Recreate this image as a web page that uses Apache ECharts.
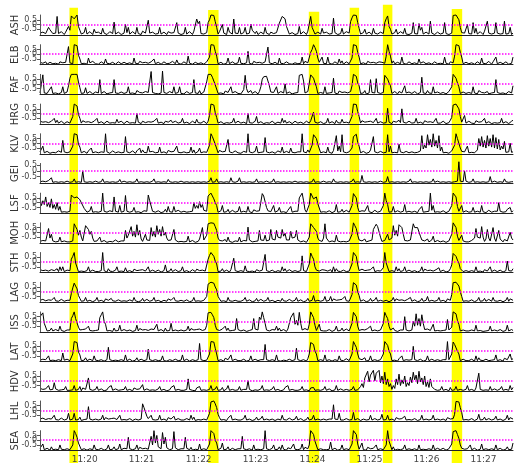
<!DOCTYPE html>
<html>
<head>
<meta charset="utf-8">
<script src="https://cdn.jsdelivr.net/npm/echarts@6/dist/echarts.min.js"></script>
<style>html,body{margin:0;padding:0;background:#fff;}#c{width:516px;height:463px;}</style>
</head>
<body>
<div id="c"></div>
<script>
// Stations (panel order, top to bottom)
const stations = ['ASH','ELB','FAF','HRG','KLV','GEI','LSF','MOH','STH','LAG','ISS','LAT','HDV','LHL','SEA'];
// Sampling: seconds after 11:19:00
const tStart = 13;
const tStep = 1.5;
// X tick positions (seconds after 11:19:00) and labels
const tickSeconds = [60,120,180,240,300,360,420,480];
const tickLabels = ['11:20','11:21','11:22','11:23','11:24','11:25','11:26','11:27'];
// Highlight windows (seconds after 11:19:00)
const bandStart = [44,190,296,339,374,446.5];
const bandEnd   = [53,201,307,349,384,457.5];
const bandTop   = [7.7,10,11.7,7.7,4.7,9];

const ASH = [
-.9,-1,-.8,-.85,-.95,-1,-.3,-.55,-.4,-.95,-.75,-.9,.85,-.95,-.85,-.75,-.95,-1.05,-.8,-.9,
-.2,-.6,.9,.7,.6,.8,1,-.2,-.6,-1,-.9,-.85,-.3,-1,-.8,-.75,-.9,-1.05,-.5,-.85,
-.95,-.8,-.85,-1,-.4,-.9,-.75,-1.05,-.9,-.75,-.85,-.95,.25,-1,-.95,-.8,-.85,-1.05,-.9,-.9,
0,-.85,-.3,-1,-.85,-.75,-.95,-1,-.3,-.95,-.9,-1.05,-.7,-.8,-.9,-1,.45,-.9,-.95,-.8,
-.9,-1,-.8,-.95,-.3,-1,-.85,-.8,-.9,-1.05,-.75,-.95,-.9,-.75,-.85,-1,.2,-.9,-.8,-1.05,
-.85,-.95,-.3,-1,-.8,-.75,-.9,-1.05,-.7,-.9,.58,.1,.35,-.95,-.8,-1,-.9,-.85,.2,.5,
1,.9,.95,.3,-.3,-1,-.75,-.95,0,-.9,-.85,-1.05,-.3,-.8,-.95,-1,.58,-.9,-.9,-.95,
-.3,-1,-.9,-.85,-.3,-1,-.95,-.9,.05,-.6,-.4,-.95,-.7,-1.05,-.9,-.8,-.85,-1,-.3,-.9,
-.9,-1.05,-.8,-.75,-.95,-1,-.85,-.9,.15,.3,.85,.75,.6,-.2,-.4,-1,-.95,-.85,-.8,-1.05,
-.85,-.95,-.2,-1,-.8,-.75,-.9,-1.05,-.7,-.9,.85,-.3,-.5,-1,-.8,-.8,-.9,-1,-.4,-.9,
-.95,-.8,-.85,-1,-.9,-.95,.67,-.85,-.9,-1.05,-.85,-.95,-.4,-1,-.95,-.75,-.85,-.9,.3,.7,
1,.98,.95,.2,-.4,-1,-.95,-.85,-.5,-1,-.9,-.8,-.7,-1.05,-.4,-.9,-.85,-1,-.95,-.8,
-.9,-.95,.2,.6,.9,-.2,-.5,-1,-.9,-.85,-.5,-1,-.9,-.75,-.85,-.95,-.4,-1,-.8,-1.05,
-.85,-.9,.2,-.95,-.8,-1,.1,-.6,-.3,-1,-.9,-.8,-.95,-1,.35,-.9,-.9,-1.05,-.85,-.8,
-.95,-1,-.85,-.9,.2,-.95,-.75,-1.05,-.9,-.9,.95,.98,1,.8,.5,-.3,-.85,-1,-.9,-.85,
0,-.95,-.9,-1,.2,-.9,-.4,-1,-.8,-.75,-.9,-1.05,-.7,-.9,.35,-.9,-.85,-1,-.95,-.9,
.2,-.9,-.8,-1,-.95,-.95,.35,-1,-.9,-.95,-.3,-1.05,-.9];
const ELB = [
-.85,-1,-.95,-.8,-.8,-1.05,-.9,-.85,-.7,-1,-.9,-.95,-.95,-1.05,-.8,-.9,-.9,-1,-.85,-.9,
.8,-.9,-.85,-1,1,.95,.9,-.1,-.5,-1,-.85,-.95,-.8,-1.05,-.4,-.9,-.85,-.75,-.9,-1,
-.8,-1.05,-.9,-.8,-.85,-1,-.5,-.95,-.8,-1,-.9,-.85,-.7,-1.05,-.9,-.8,-.85,-1,-.95,-.85,
-.9,-1,-.8,-.9,-.95,-1.05,-.4,-.95,-.9,-1,-.75,-.9,-.9,-1.05,-.85,-.8,-.95,-1,-.8,-.95,
-.5,-1,-.95,-.85,-.8,-1.05,-.9,-.8,-.7,-1,-.9,-.95,-.95,-.75,-.8,-1,-.6,-.95,-.85,-1.05,
-.95,-.8,-.85,-1,-.2,-.95,-.75,-1.05,-.9,-.85,-.85,-1,-.8,-.9,-.95,-1.05,-.85,-.8,-.9,-.3,
1,.98,.95,.3,-.2,-1,-.95,-.85,-.8,-1.05,-.9,-.95,-.4,-1,-.9,-.8,-.85,-1,-.95,-.9,
-.3,-.95,-.8,-1,-.95,-.9,.3,-.95,-.9,-1.05,-.75,-.9,-.9,-1,-.85,-.8,-.95,-1.05,-.8,-.9,
.75,-.9,-.95,-1,-.8,-.85,-.9,-1.05,-.4,-.95,-.9,-1,-.95,-.8,-.8,-1,-.9,-1.05,-.85,-.9,
-.95,-1,-.85,-.95,-.3,-1,-.75,-.85,-.9,-.95,.2,.5,1,.7,.3,-.4,-.85,-1,-.3,-.95,
-.8,-1,-.3,-.95,-.85,-1.05,-.95,-.8,-.8,-1,-.5,-.95,-.7,-1.05,-.9,-.8,-.85,-1,-.95,-.4,
1,.95,.9,.2,-.3,-1,-.85,-.9,-.9,-1.05,-.75,-.95,-.9,-1,-.85,-.8,-.95,-1.05,-.8,-.9,
-.85,-1,-.95,-.2,1,.3,-.2,-.95,-.7,-1,-.9,-.85,-.95,-1,-.3,-.95,-.9,-1.05,-.85,-.8,
-.95,-1,-.85,-.9,-.9,-1.05,-.5,-.95,-.9,-.8,-.85,-1,-.8,-.9,-.95,-1.05,-.85,-.8,-.9,-1,
-.8,-.95,-.9,-1,-.3,-.95,-.95,-1.05,-.8,-.85,-.9,-.2,1,.95,.9,.2,-.3,-1,-.95,-.85,
-.9,-1,-.8,-.9,-.95,-1.05,-.85,-.8,-.9,-1,-.4,-.95,-.9,-1,-.85,-.75,-.95,-1.05,-.8,-.95,
-.3,-1,-.95,-.85,-.8,-1,-.9,-.8,-.7,-1.05,-.9,-.95,-.3];
const FAF = [
-.95,-.9,.95,-.95,-.9,-1,-.75,-.9,-.3,-1,-.85,-.95,-.8,-1.05,-.95,-.9,-.3,-1,-.9,-.85,
-.2,.6,1,1,1,1,1,.2,-.4,-1,-.9,-.95,-.4,-1,-.9,-.8,-.85,-1.05,-.95,-.85,
-.9,-.95,.45,-1,-.95,-.8,-.85,-1.05,-.9,-.95,-.75,-.9,.45,-.95,-.85,-1,-.95,-.85,-.8,-1,
-.85,-.9,-.3,-1,-.8,-.95,-.9,-1.05,-.7,-.9,-.9,-1,-.95,-.85,-.8,-1,-.9,-.95,1.3,-.9,
-.95,-1,-.85,-1.05,-.9,-.95,1.35,-.9,-.9,-1,-.85,-.8,-.8,-.95,-.3,-1,-.85,-.9,-.3,-1,
-.8,-1.05,-.9,-.8,-.85,-1,-.95,-.9,.45,-.95,-.9,-1,-.7,-1.05,-.9,-.85,-.85,.2,1,1,
1,.7,.3,-.1,-.3,-1,-.85,-.95,-.9,-1.05,-.75,-.9,-.9,-1,-.3,-.95,-.95,-.8,-.8,-1,
-.85,-1.05,-.95,-.6,.9,-.5,-.9,-.95,-.7,-1,-.9,-.8,-.95,-1.05,-.8,-.3,.5,.75,.9,.8,
.7,-.2,-.85,-1,-.9,-.95,-.3,-1,-.9,-.8,-.85,-.95,0,-1,-.95,-.85,-.85,-1.05,-.9,-.95,
-.8,-.9,.9,.95,1,.3,-.95,-1,-.8,-.85,.95,.8,.6,.1,-.3,-1,-.85,-.9,-.95,-1,
-.3,-1,-.8,-.95,-.95,-.9,.6,-.95,-.9,-1.05,-.75,-.9,-.9,-1,-.85,-.8,-.95,-1.05,-.8,-.2,
1,.9,.8,.1,-.2,-1,-.9,-.95,-.7,-1.05,-.9,-.95,.45,-.9,-.8,-.95,.55,-.9,-.85,-1,
-.95,-.9,.9,.7,.5,.1,-.2,-1,-.9,-.8,-.85,-1.05,-.8,-.9,-.95,-1,-.2,-.95,-.9,-.85,
-.8,-1,-.9,-.8,-.85,-1.05,-.95,-.9,.7,-.95,-.9,-1,-.7,-.95,-.9,-1,-.3,-.95,-.95,-.85,
-.9,-1,-.8,-.9,-.95,-1.05,-.85,-.8,-.9,-.3,1,.85,.6,.1,-.3,-1,-.95,-.85,-.8,-1,
-.85,-.9,-.95,-1,-.3,-.95,-.9,-1.05,-.7,-.85,-.9,-1,-.95,-.8,-.8,-1.05,-.9,-.95,-.85,-.9,
.45,-.9,-.85,-1,-.9,-.95,-.75,-1.05,-.9,-.8,-.85,-.95,-.2];
const HRG = [
-.8,-1,-.9,-.85,-.85,-1.05,-.95,-.8,-.8,-1,-.5,-.95,-.7,-1,-.9,-.8,-.85,-1.05,-.95,-.85,
-.9,-1,-.8,-.3,1,.9,.8,-.1,-.5,-1,-.75,-.95,-.9,-1.05,-.85,-.8,-.95,-1,-.8,-.9,
-.5,-1,-.95,-.85,-.8,-1.05,-.9,-.8,-.7,-1,-.9,-.95,-.95,-1,-.6,-.95,-.9,-.8,-.85,-1.05,
-.95,-.8,-.85,-1,-.9,-.95,-.75,-1,0,-.9,-.85,-1.05,-.8,-.9,-.95,-1,-.85,-.8,-.9,-1,
-.8,-.95,-.5,-1,-.85,-.9,-.95,-1.05,-.8,-.85,-.9,-1,-.7,-.95,-.9,-.8,-.85,-1,-.95,-.9,
-.5,-1,-.8,-.9,-.95,-1.05,-.85,-.8,-.9,-1,-.6,-.95,-.9,-1,-.85,-.8,-.95,-1.05,-.8,-.2,
1,.95,.9,.1,-.4,-1,-.9,-.85,-.7,-1.05,-.9,-.95,-.95,-1,-.8,-.9,-.5,-1,-.85,-.8,
-.95,-1,-.85,-.9,-.9,-1.05,0,-.95,-.9,-1,-.85,-.8,-.3,-1,-.95,-.85,-.85,-1.05,-.9,-.95,
-.8,-1,-.9,-.8,-.85,-1.05,-.95,-.9,-.8,-1,-.5,-.95,-.7,-1,-.9,-.85,-.85,-1.05,-.95,-.8,
-.9,-1,-.8,-.9,-.95,-1.05,-.85,-.8,-.9,-1,-.75,-.95,.15,-.9,-.85,-1,-.95,-.85,-.8,-1.05,
-.85,-.95,-.5,-1,-.8,-.85,-.9,-1.05,-.7,-.95,-.9,-1,-.6,-.95,-.8,-.9,-.9,-1,-.85,-.3,
1,.98,.95,.2,-.3,-1,-.75,-.9,-.9,-1.05,-.85,-.8,-.8,-1,-.95,-.9,-.5,-1,-.9,-.85,
-.8,-1,-.9,-.95,.55,-.9,-.95,-1.05,-.8,-.85,-.9,-1,-.7,-.95,.5,-.9,-.85,-1,-.95,-.8,
-.9,-1,-.8,-.95,-.5,-1,-.85,-.9,-.9,-1.05,-.75,-.95,-.9,-.8,-.85,-1,-.95,-.9,-.5,-1,
-.85,-1,-.95,-.8,-.8,-1.05,-.9,-.95,-.7,-.4,.9,.95,1,.8,.5,-.3,-.9,-.95,-.2,-1,
-.95,-.8,-.85,-1,-.9,-1.05,-.75,-.9,-.9,-.95,-.85,-1,-.5,-1,-.95,-.85,-.85,-1.05,-.9,-.95,
-.8,-1,-.9,-.95,-.5,-1,-.95,-.85,-.8,-1.05,-.9,-.8,-.7];
const KLV = [
-.9,-1,-.3,-1,-.95,-.85,-.85,-1.05,-.9,-.95,-.75,-1,-.9,-.8,-.85,-.95,.3,-.9,-.8,-1,
-.85,-.9,-.95,-.3,1,.95,.9,-.1,-.4,-1,-.9,-.85,-.95,-1.05,-.8,-.95,-.5,-1,-.85,-.9,
-.95,-1,-.85,-.9,-.9,-.95,1,-.9,-.9,-1.05,-.85,-.8,-.8,-1,-.95,-.9,-.85,-1,-.9,-.95,
.7,-.9,-.9,-1,-.85,-.8,-.95,-1.05,-.8,-.9,-.5,-1,-.7,-.95,-.9,-1,-.3,-.9,-.95,-.85,
-.9,-1,-.8,-.95,-.4,-1,-.85,-.9,-.9,-1.05,-.75,-.95,-.9,-.8,-.85,-1,-.3,-.95,-.8,-1,
-.85,-.9,-.95,-1,-.8,-.95,-.4,-1,-.7,-1.05,-.9,-.85,-.5,-1,-.8,-.9,-.9,-.95,-.85,-.2,
1,.7,.5,-.1,-.3,-1,-.75,-.9,-.9,-1.05,-.85,-.95,.4,-.9,-.95,-1,-.85,-.8,-.9,-1,
-.8,-1.05,-.9,-.85,-.85,-.95,1,-.9,-.8,-1,-.9,-.85,-.3,-1,-.9,-.95,-.85,-.9,.6,-.9,
-.9,-1,-.8,-.9,-.95,-1.05,-.85,-.8,-.9,-.95,-.4,-1,-.9,-.85,-.85,-1,-.5,-.95,-.8,-1,
-.85,-.9,-.95,-.9,1,-.9,-.9,-1,-.7,-.95,-.9,-.2,.9,.7,.5,-.1,-.3,-1,-.85,-.9,
-.95,-1,-.4,-.95,-.9,-1.05,-.75,-.9,.8,-.8,-.3,-.9,.9,-.9,-.95,-1,-.85,-.9,-.9,-.5,
.7,.85,.95,.1,-.3,-1,-.95,-.85,-.8,-1.05,-.9,-.95,-.7,-.9,.7,-.9,-.85,-1,-.95,-.85,
-.9,-1,-.8,-.95,.9,-.9,-.3,-1,-.9,-.95,-.75,-1,-.1,-.9,-.85,-1,-.95,-.85,-.8,-1,
-.85,-.9,-.95,-1,-.8,-.95,-.9,-.8,.8,-.6,-.2,-.5,.9,-.2,.4,-.4,1,-.3,.3,-.5,
.8,-.8,-.4,-1,-.9,-.95,-.75,-1.05,-.9,-.8,-.85,-.2,1,.5,.3,-.5,-.85,-1,-.9,-.95,
-.3,-1,-.9,-.95,-.85,-1,-.95,-.7,.5,-.3,.7,-.4,.3,-.5,.8,-.3,.5,-.4,.9,-.5,
.6,-.6,.4,-.7,-.3,-.6,.2,-.95,-.9,-.9,0,-.95,-.9];
const GEI = [
-.95,-1,-.9,-.95,-.95,-1,-.85,-.95,-.6,-1,-.9,-.95,-.95,-1,-.9,-.95,-.85,-1,-.95,-.9,
-.95,-1,-.9,-.95,-.7,-1,-.85,-.95,-.95,-1,0,-.95,-.95,-1,-.9,-.95,-.85,-1,-.95,-.9,
-.95,-1,-.9,-.95,-.7,-1,-.85,-.95,-.95,-1,-.9,-.95,-.95,-1,-.9,-.95,-.75,-1,-.95,-.9,
-.95,-1,-.9,-.95,-.95,-1,-.85,-.95,-.7,-1,-.9,-.95,-.95,-1,-.9,-.95,-.85,-1,-.95,-.9,
-.7,-1,-.9,-.95,-.95,-1,-.85,-.95,-.95,-1,-.75,-.95,-.95,-1,-.9,-.95,-.85,-1,-.95,-.9,
-.95,-1,-.9,-.95,-.95,-1,-.85,-.95,-.95,-1,-.9,-.95,-.95,-1,-.9,-.95,-.85,-1,-.95,-.9,
-.6,-1,-.9,-.95,-.7,-1,-.85,-.95,-.95,-1,-.9,-.95,-.95,-1,-.6,-.95,-.85,-1,-.95,-.9,
-.6,-1,-.9,-.95,-.95,-1,-.85,-.95,-.95,-1,-.9,-.95,-.7,-1,-.9,-.95,-.85,-1,-.95,-.9,
-.95,-1,-.9,-.95,-.7,-1,-.85,-.95,-.95,-1,-.9,-.95,-.95,-1,-.9,-.95,-.85,-1,-.95,-.9,
-.75,-1,-.9,-.95,-.95,-1,-.85,-.95,-.95,-1,-.9,-.95,-.7,-1,-.9,-.95,-.85,-1,-.95,-.9,
-.95,-1,-.9,-.95,-.95,-1,-.7,-.95,-.95,-1,-.9,-.95,-.95,-1,-.9,-.95,-.85,-1,-.95,-.9,
-.7,-1,-.9,-.95,-.95,-1,-.4,-.95,-.95,-1,-.9,-.95,-.95,-1,-.9,-.95,-.85,-1,-.95,-.9,
-.95,-1,-.9,-.95,-.5,-1,-.85,-.95,-.95,-1,-.9,-.95,-.95,-1,-.9,-.95,-.85,-1,-.95,-.9,
-.7,-1,-.9,-.95,-.95,-1,-.85,-.95,-.95,-1,-.9,-.95,-.95,-1,-.9,-.95,-.7,-1,-.95,-.9,
-.95,-1,-.9,-.95,-.95,-1,-.85,-.95,-.95,-1,-.9,-.95,-.95,-.9,.8,-.9,-.85,-.95,0,-.9,
-.95,-1,-.9,-.95,-.7,-1,-.85,-.95,-.95,-1,-.9,-.95,-.95,-1,-.9,-.95,-.5,-1,-.95,-.9,
-.95,-1,-.9,-.95,-.95,-1,-.7,-.95,-.95,-1,-.9,-.95,-.95];
const LSF = [
.5,-.3,.2,-.2,.6,-.4,0,-.5,.4,-.6,-.2,-.7,0,-.8,-.4,-1,-.9,-.95,-.85,-1,
-.95,-.9,.8,.6,.5,.5,.6,.4,.3,0,-.1,-.6,-.8,-1,-.95,-.85,-.4,-1,-.9,-.95,
-.8,-1,-.9,-.9,1,-.9,-.95,-1,-.8,-.85,-.9,-.95,.6,-.9,-.9,-1,-.3,-1,-.95,-.9,
.75,-.9,-.8,-1,-.95,-.9,-.5,-1,-.9,-.95,-.75,-1.05,-.9,-.85,-.85,-.9,.8,.2,.4,-.9,
-.85,-1,-.95,-.85,-.8,-1.05,-.9,-.95,-.7,-1,-.4,-.95,-.95,-1,-.4,-.95,-.9,-.8,-.85,-1,
-.95,-.9,-.85,-1,-.9,-.95,-.75,-.9,0,-.6,-.3,-.6,.1,-.5,-.2,-.8,-.85,-.9,.7,.8,
1,.7,.4,0,-.3,-1,-.95,-.85,-.3,-1,-.9,-.95,-.7,-1.05,-.9,-.8,-.85,-1,-.95,-.9,
-.4,-1,-.8,-.9,-.95,-1,-.4,-.95,-.9,-1.05,-.75,-.9,-.9,-1,-.85,-.9,.95,.7,.5,-.5,
-.85,-1,-.95,-.9,-.3,-1,-.9,-.85,-.5,-1,-.9,-.95,-.95,-1.05,-.8,-.9,-.4,-1,-.85,-.9,
-.95,-.9,.5,.7,1,.2,-.75,-1,-.9,-.2,1,.7,.4,.3,.6,-.1,-.3,-1,-.9,-.95,
-.8,-1,-.9,-.85,-.85,-1.05,-.95,-.9,-.2,-1,-.9,-.95,-.7,-1,-.9,-.8,-.85,-1,-.95,-.3,
.95,.8,.5,-.5,-.95,-1,-.85,-.9,-.9,-1,-.3,-.95,-.9,-1.05,-.85,-.8,-.95,-1,-.8,-.9,
-.85,-.3,1,.2,-.2,-1,-.9,-.95,-.4,-1,-.9,-.85,-.95,-1,-.8,-.9,-.2,-1,-.85,-.9,
-.95,-1,-.85,-.9,-.9,-1.05,-.75,-.9,-.4,-1,-.85,-.95,-.8,-.9,1,-.8,-.3,-1,-.9,-.95,
-.8,-1,-.9,-.85,-.85,-1.05,-.95,-.9,-.8,-.3,1,.8,.6,-.4,-.9,-.95,-.3,-1,-.95,-.85,
-.9,-1,-.8,-.95,-.5,-1,-.85,-.9,-.9,-1,-.3,-.95,-.9,-1.05,-.85,-.8,-.95,-1,-.8,-.9,
-.85,-.9,0,-.9,-.8,-1,-.9,-.95,-.7,-.9,-.5,-1,-.85];
const MOH = [
-.95,-1,-.85,-.9,-.9,-.95,.4,-.6,-.2,-.9,-.85,-1,-.8,-.95,-.5,-1,-.85,-.9,-.9,-1,
-.8,-1,-.9,-.9,.9,.6,.3,-.3,.2,-.5,-.9,-.9,.7,.5,.3,-.2,.1,-.6,-.95,-1,
-.9,-.95,-.5,-1,-.95,-.85,-.85,-1.05,-.9,-.95,-.75,-1,-.9,-.8,-.85,-1,-.95,-.9,-.8,-.9,
.2,-.6,-.3,-.5,.6,-.4,.1,-.5,.8,-.3,.2,-.7,-.95,-.9,-.2,-.8,-.9,-.85,.5,-.4,
.1,-.5,.7,-.2,.3,-.4,.6,-.3,0,-.6,-.85,-1,-.8,-.9,.3,-.8,-.85,-1,-.9,-.95,
-.8,-1,-.9,-.95,-.4,-1,-.95,-.85,-.8,-1.05,-.9,-.95,-.7,-.8,.5,-.8,-.85,-.3,.9,.95,
1,.98,.95,.6,.2,-.6,-.85,-1,-.9,-.95,-.75,-1,-.5,-.95,-.85,-1.05,-.95,-.9,-.8,-.95,
-.5,-1,-.95,-.85,-.8,-.9,.55,-.8,-.7,-1,-.9,-.95,-.95,-.9,.2,-.8,-.9,-.85,-.3,-.9,
-.95,-.8,.3,-.7,-.9,-.8,.2,-.5,-.3,-.6,.3,-.4,-.1,-.8,-.95,-.8,.1,-.6,-.4,-.5,
.2,-.8,-.9,-1,-.85,-.9,-.95,-1.05,-.8,-.5,.9,.7,.5,.3,.1,-.6,-.85,-1,-.95,-.6,
.9,-.6,-.8,-1,-.95,-.9,-.85,-1,-.3,-.9,-.75,-1,-.9,-.95,-.85,-1,-.95,-.9,-.8,-.2,
1,.7,.4,-.3,-.8,-1,-.9,-.95,-.7,-1,-.9,-.9,-.95,-.8,.3,.6,.85,.6,.4,-.5,
-.95,-1,-.85,-.9,-.2,-.8,-.75,-.6,.7,-.3,.2,-.4,.8,.6,.5,-.2,-.85,-1,-.9,-.95,
-.8,-.6,.9,.5,.4,.5,.7,-.4,-.8,-1,-.9,-.95,-.7,-1,-.9,-.8,-.4,-1,-.95,-.85,
-.9,-1,-.8,-.9,-.95,-1.05,-.85,-.9,-.9,-.2,1,.8,.5,-.4,-.85,-.9,-.3,-.9,-.8,-1,
-.85,-1,-.95,-.85,-.8,-.6,.4,-.5,-.7,-.6,.6,-.5,-.95,-.7,.3,-.6,-.9,-.8,.5,-.6,
-.95,-.8,.2,-.7,-.9,-1,-.75,-.95,-.9,-.7,0,-.6,-.8];
const STH = [
-.8,-1,-.9,-.85,-.85,-1.05,-.95,-.9,-.8,-1,-.9,-.95,-.7,-1,-.5,-.9,-.5,-1,-.95,-.85,
-.9,-.9,.3,.6,1,-.1,-.2,-1,-.9,-.95,-.75,-1,-.9,-.9,-.5,-1,-.95,-.85,-.8,-1,
-.85,-1,-.95,-.9,1,-.9,-.9,-1.05,-.7,-.95,-.9,-1,-.95,-.85,-.5,-1,-.9,-.95,-.85,-1,
-.6,-1,-.85,-.9,-.9,-1.05,-.75,-.95,-.9,-1,-.85,-.8,-.8,-1,-.95,-.9,-.5,-1,-.9,-.85,
-.8,-1,-.9,-.85,-.85,-1.05,-.95,-.9,-.3,-1,-.9,-.95,-.7,-1,-.9,-.8,-.85,-1,-.95,-.9,
-.5,-1,-.8,-.9,-.95,-1.05,-.85,-.8,-.9,-1,-.75,-.95,-.9,-1,-.85,-.9,-.95,-.9,.3,.7,
1,.8,.6,.1,-.2,-1,-.9,-.95,-.7,-1,-.9,-.85,-.95,-1.05,-.8,-.9,.4,-.9,-.85,-1,
-.95,-.9,-.85,-1,-.4,-.95,-.75,-1,-.9,-.95,-.85,-1.05,-.8,-.9,-.95,-1,-.85,-.9,.8,-.9,
-.8,-1,-.9,-.85,-.85,-1.05,-.95,-.9,-.8,-1,-.5,-.95,-.7,-1,-.9,-.8,-.85,-1,-.95,-.9,
-.9,-1,-.8,-.9,.65,-.9,-.85,-1,-.9,-.2,.95,.6,.3,-.5,-.85,-1,-.95,-.9,-.8,-1,
-.85,-1,-.95,-.85,-.8,-1.05,-.5,-1,-.7,-.95,-.9,-1,-.95,-.85,-.8,-1,-.9,-.95,-.85,-.2,
1,.8,.6,-.3,-.9,-1,-.75,-.95,-.9,-1.05,-.85,-.9,-.8,-1,-.5,-1,-.85,-.9,-.9,-.95,
-.8,-.6,1,-.1,-.3,-1,-.95,-.9,-.8,-1,-.5,-.95,-.7,-1,-.9,-.9,-.5,-1,-.95,-.85,
-.9,-1,-.8,-.9,-.95,-1.05,-.85,-.9,-.5,-1,-.75,-.95,-.9,-1,-.85,-.9,-.95,-1,-.8,-.95,
-.6,-1,-.95,-.85,-.8,-1.05,-.9,-.95,-.7,-.3,.9,.75,.6,.2,-.1,-.7,-.9,-1,-.85,-.9,
-.95,-1,-.85,-.9,-.9,-1,-.5,-1,-.9,-.95,-.85,-1.05,-.8,-.9,-.95,-1,-.5,-1,-.9,-.85,
-.8,-1,-.9,-.85,-.85,-1.05,-.95,-.9,.1,-.9,-.9,-.95,-.7];
const LAG = [
-.9,-1,-.8,-.9,-.95,-1.05,-.85,-.9,-.9,-1,-.6,-.95,-.9,-1,-.85,-.8,-.95,-1,-.8,-.9,
-.85,-.9,-.2,.4,.9,.6,.3,-.4,-.7,-1,-.9,-.95,-.6,-1,-.8,-.9,-.9,-1.05,-.85,-.9,
-.6,-1,-.85,-.9,-.9,-1.05,-.75,-.95,-.9,-1,-.7,-.95,-.8,-1,-.95,-.85,-.85,-1,-.9,-.95,
-.8,-1,-.9,-.85,-.85,-1,-.6,-.95,-.8,-1.05,-.9,-.95,-.7,-1,-.9,-.8,-.85,-1,-.95,-.9,
-.6,-1,-.8,-.9,-.95,-1.05,-.85,-.9,-.9,-1,-.75,-.95,-.9,-1,-.6,-.95,-.95,-1,-.8,-.9,
-.85,-1,-.95,-.85,-.8,-1.05,-.9,-.95,-.6,-1,-.9,-.95,-.95,-1,-.8,-.9,-.9,-.5,.8,.9,
1,.95,.9,.5,.2,-.5,-.75,-1,-.9,-.95,-.85,-1.05,-.6,-.95,-.95,-1,-.85,-.9,-.9,-1,
-.8,-1,-.9,-.85,-.6,-1,-.95,-.85,-.8,-1.05,-.9,-.95,-.7,-1,-.9,-.8,-.85,-1,-.95,-.9,
-.6,-1,-.8,-.9,-.95,-1.05,-.85,-.9,-.9,-1,-.7,-.95,-.9,-1,-.85,-.8,-.95,-1,-.8,-.9,
-.6,-1,-.95,-.85,-.8,-1.05,-.9,-.95,-.7,-1,-.9,-.9,-.4,-1,-.8,-.9,-.9,-1,-.85,-.9,
-.5,-1,-.85,-.9,-.5,-1,-.75,-.95,-.9,-1.05,-.85,-.9,-.8,-1,-.5,-.95,-.85,-1,-.9,-.3,
.95,.85,.7,0,-.4,-1,-.95,-.85,-.8,-1.05,-.9,-.95,-.7,-1,-.9,-.85,-.6,-1,-.95,-.9,
-.9,-1,-.8,-.9,-.95,-1.05,-.85,-.9,-.6,-1,-.75,-.95,-.9,-1,-.85,-.8,-.95,-1,-.8,-.9,
-.6,-1,-.95,-.85,-.8,-1.05,-.9,-.95,-.7,-1,-.9,-.9,-.5,-1,-.8,-.9,-.9,-1,-.85,-.9,
-.6,-1,-.85,-.9,-.9,-1.05,-.75,-.95,-.9,-.3,.95,.98,1,.85,.6,0,-.5,-1,-.9,-.95,
-.8,-1,-.9,-.85,-.85,-1.05,-.95,-.9,-.6,-1,-.9,-.95,-.7,-1,-.9,-.8,-.85,-1,-.6,-.95,
-.9,-1,-.8,-.9,-.95,-1.05,-.85,-.9,-.6,-1,-.75,-.95,-.9];
const ISS = [
.5,.3,.9,-.2,-.4,-1,-.9,-.95,-.7,-1,-.9,-.85,-.95,-1,-.5,-.95,-.9,-1.05,-.85,-.9,
-.95,-.9,.3,.6,1,.3,.2,-.6,-.9,-1,-.85,-.95,-.8,-1,-.5,-.95,-.85,-1,-.9,-.95,
-.8,-.9,.4,.7,1,0,-.3,-1,-.8,-.95,-.9,-1.05,-.7,-1,-.9,-.95,-.4,-1,-.95,-.85,
-.9,-1,-.8,-.9,-.95,-1.05,-.85,-.95,-.4,-1,-.75,-.95,-.9,-1,-.85,-.8,-.95,-1,-.8,-.9,
-.85,-.95,-.3,-1,-.8,-.85,-.9,-1.05,-.7,-1,-.9,-.95,-.2,-1,-.8,-.9,-.9,-1,-.85,-.9,
-.95,-1,-.85,-.9,-.5,-1,-.75,-.95,-.9,-1.05,-.85,-.9,-.8,-1,-.95,-.9,-.85,-.4,.9,.92,
.95,.7,.4,-.4,-.85,-1,-.95,-.85,-.8,-1,-.5,-.95,-.7,-1,-.9,-.95,-.85,-.9,.3,-.85,
-.9,-1,-.8,-.9,-.95,-1.05,-.85,-.95,-.9,-.85,.3,-.8,-.9,-.9,.45,.2,1,.4,-.2,-.9,
-.85,-1,-.95,-.85,-.8,-.9,-.5,-.95,-.7,-1,-.9,-.85,-.95,-1.05,-.8,-.9,.4,.5,.9,-.3,
.1,-.4,.95,-.2,-.9,-1,-.75,-.95,-.9,-.3,1,.7,.4,-.4,-.95,-.9,-.3,-.95,-.9,-1,
-.8,-1,-.9,-.85,-.85,-1.05,-.95,-.9,-.5,-1,-.9,-.95,-.7,-1,-.9,-.8,-.85,-1,-.95,-.2,
.95,.8,.5,-.5,-.95,-1,-.85,-.9,-.9,-1.05,-.75,-.95,-.5,-1,-.85,-.9,-.95,-1,-.8,-.9,
-.85,-.2,.95,.6,.3,-.5,-.9,-1,-.7,-.95,-.9,-1.05,-.95,-.9,-.8,-.9,.5,-.9,-.85,-1,
-.95,-.9,0,-.5,.8,-.4,.3,-.5,.7,-.2,-.85,-1,-.8,-.9,-.95,-.95,-.3,-1,-.9,-.95,
-.8,-1,-.9,-.95,-.85,-.9,.2,-.9,-.8,-.6,1,.9,.8,.1,-.3,-1,-.85,-.9,-.95,-1,
-.9,-1,-.8,-.9,-.95,-1,-.4,-1,-.9,-.95,-.75,-1.05,-.9,-1,-.85,-.95,-.5,-1,-.8,-.9,
-.85,-1,-.95,-.85,-.8,-1.05,-.9,-.95,-.4,-1,-.9,-.85,-.95];
const LAT = [
-.95,-1,-.85,-.9,-.9,-1.05,-.5,-1,-.9,-.95,-.85,-1,-.8,-.9,-.95,-1,-.2,-.95,-.9,-.85,
-.8,-1,-.9,-.3,1,.95,.9,-.1,-.4,-1,-.9,-.95,-.7,-1,-.9,-.85,-.85,-1,-.5,-.95,
-.9,-1,-.8,-.9,-.95,-1.05,-.85,-.9,.4,-.9,-.75,-1,-.9,-.95,-.85,-1,-.95,-.9,-.8,-1,
-.4,-1,-.95,-.85,-.8,-1.05,-.9,-.95,-.7,-1,-.9,-.85,-.95,-1,-.8,-.9,.2,-.9,-.85,-1,
-.95,-.9,-.85,-1,-.9,-.95,-.5,-1,-.9,-1.05,-.85,-.9,-.8,-1,-.95,-.85,-.85,-1,-.9,-.95,
-.4,-1,-.9,-.85,-.85,-1.05,-.95,-.9,-.8,-1,-.9,-.9,.8,-.9,-.9,-1,-.85,-.95,-.95,-.3,
1,.98,.95,.3,-.3,-1,-.85,-.9,-.9,-1.05,-.75,-.95,-.9,-1,-.4,-1,-.95,-.85,-.8,-1,
-.85,-1,-.95,-.85,-.8,-1.05,-.9,-.95,-.5,-1,-.9,-.85,-.95,-1,-.8,-.9,-.9,-.9,.7,-.9,
-.95,-1,-.85,-.9,-.9,-1,-.4,-1,-.9,-1.05,-.85,-.95,-.8,-1,-.95,-.85,-.85,-1,-.9,-.9,
.3,-.9,-.9,-1,-.85,-.9,-.95,-1.05,-.8,-.3,.9,.8,.7,0,-.3,-1,-.85,-.9,-.95,-1,
-.4,-1,-.8,-.9,-.95,-1.05,-.85,-.9,-.9,-1,-.5,-.95,-.9,-1,-.85,-.8,-.95,-1,-.8,-.3,
1,.7,.4,-.3,-.8,-1,-.9,-.95,-.7,-1.05,-.9,-.95,-.5,-1,-.8,-.9,-.9,-1,-.85,-.9,
-.95,-.3,1,.8,.6,0,-.3,-1,-.9,-.95,-.85,-1.05,-.8,-1,-.5,-1,-.85,-.9,-.9,-.95,
-.8,-.9,.5,-.9,-.85,-1,-.95,-.85,-.8,-1.05,-.9,-.95,-.5,-1,-.9,-.85,-.85,-1,-.95,-.9,
-.9,-1,-.8,-.9,-.95,-.9,1,-.9,-.9,-.3,.95,.7,.5,0,-.3,-1,-.95,-.85,-.8,-1,
-.85,-1,-.95,-.85,-.8,-1.05,-.5,-1,-.7,-.95,-.9,-1,-.95,-.85,-.8,-1,-.9,-.95,-.85,-.9,
-.4,-1,-.85,-.9,-.9,-1.05,-.75,-.95,-.9,-1,-.3,-.9,-.8];
const HDV = [
-.8,-1,-.9,-.85,-.85,-1,-.5,-.95,-.8,-.9,-.2,-.85,-.7,-1,-.9,-.95,-.85,-.9,-.6,-1,
-.9,-1,-.8,-.95,-.5,-1,-.85,-.9,-.6,-1.05,-.75,-.95,-.9,-.9,.3,-.9,-.95,-1,-.8,-.9,
-.6,-1,-.95,-.85,-.8,-1.05,-.9,-.95,-.7,-.9,-.5,-1,-.95,-.85,-.8,-1,-.9,-.95,-.85,-.9,
-.6,-1,-.85,-.9,-.9,-1.05,-.75,-.95,-.9,-1,-.85,-.9,-.4,-1,-.95,-.85,-.85,-1,-.9,-.95,
-.8,-1,-.9,-.85,-.6,-1,-.95,-.9,-.8,-1.05,-.9,-.95,-.7,-.9,-.5,-1,-.85,-.9,-.95,-1,
-.9,-1,-.8,-.9,.2,-.9,-.85,-1,-.9,-1.05,-.75,-.9,-.6,-1,-.85,-.95,-.95,-1,-.8,-.9,
-.5,-1,-.95,-.85,-.6,-1,-.9,-.95,-.7,-1.05,-.9,-.85,-.5,-1,-.8,-.9,-.9,-1,-.85,-.95,
-.6,-1,-.85,-.9,-.9,-.9,0,-.9,-.9,-1.05,-.85,-.95,-.8,-1,-.95,-.85,-.5,-1,-.9,-.95,
-.8,-1,-.9,-.85,-.6,-1,-.95,-.9,-.8,-1.05,-.9,-.95,-.7,-.9,-.5,-1,-.85,-.9,-.95,-1,
-.9,-1,-.8,-.9,-.6,-1,-.85,-.95,-.9,-1.05,-.75,-.9,-.7,-1,-.85,-.95,-.95,-1,-.8,-.9,
-.6,-1,-.95,-.85,-.8,-1.05,-.9,-.95,-.5,-1,-.9,-.85,-.95,-1,-.8,-.9,-.9,-1,-.85,-.9,
-.6,-1,-.85,-.95,-.9,-.6,-.3,-.7,.3,.2,1,-.1,.6,.5,1.1,0,.8,.6,1.1,-.2,
.5,-.3,.9,-.4,.2,-.6,-.3,-.9,-.5,-.8,.2,-.4,.7,-.5,.1,-.3,.5,-.6,-.2,-.5,
.4,-.2,.9,.1,.6,-.3,1,-.1,.3,-.4,.5,-.6,-.1,-.7,.2,-.6,-.5,-.9,-.8,-1,
-.85,-.95,-.6,-1,-.8,-.9,-.9,-1.05,-.7,-1,-.9,-.95,-.6,-1,-.8,-.9,-.9,-1,-.85,-.9,
-.5,-1,-.85,-.9,-.9,-1.05,-.75,-.9,.8,-.9,-.85,-1,-.8,-.95,-.95,-1,-.6,-1,-.9,-.85,
-.8,-1,-.9,-.85,-.6,-1,-.95,-.9,-.8,-1,-.5,-.95,-.7];
const LHL = [
-.9,-1,-.8,-.9,-.95,-1.05,-.85,-.9,-.9,-1,-.5,-.95,-.9,-1,-.85,-.8,-.95,-1,-.8,-.9,
-.3,-1,-.95,-.9,-.3,-1,-.9,-.95,-.7,-1.05,-.9,-.95,-.95,-.9,.4,-.9,-.9,-1,-.85,-.9,
-.95,-1,-.85,-.9,-.5,-1,-.75,-.95,-.9,-1.05,-.85,-.9,-.8,-1,-.95,-.9,-.5,-1,-.9,-.95,
-.8,-1,-.9,-.85,-.85,-1.05,-.95,-.9,-.8,-1,-.9,-.9,.7,.3,.1,-.6,-.85,-1,-.5,-.95,
-.9,-1,-.8,-.95,-.5,-1,-.85,-.9,-.9,-1.05,-.75,-.95,-.9,-1,-.6,-1,-.95,-.85,-.8,-1,
-.85,-1,-.95,-.85,-.8,-1,-.5,-.95,-.7,-1.05,-.9,-.95,-.95,-1,-.8,-.9,-.9,-1,-.85,-.3,
.9,.95,1,.7,.3,-.4,-.75,-1,-.9,-.95,-.85,-1.05,-.8,-1,-.5,-1,-.85,-.9,-.9,-1,
-.8,-1,-.9,-.85,-.5,-1,-.95,-.9,-.8,-1.05,-.9,-.95,-.7,-1,-.9,-.85,-.6,-1,-.95,-.9,
-.9,-1,-.8,-.9,-.95,-1.05,-.85,-.9,-.9,-1,-.5,-.95,-.9,-1,-.85,-.8,-.95,-1,-.8,-.9,
-.6,-1,-.95,-.85,-.8,-1.05,-.9,-.95,-.7,-1,-.9,-.9,-.5,-1,-.8,-.9,-.9,-1,-.85,-.9,
-.95,-1,-.85,-.9,-.9,-.9,.6,-.9,-.9,-.95,-.3,-1,-.8,-1,-.95,-.85,-.85,-1,-.9,-.95,
-.2,-1,-.9,-.85,-.85,-1.05,-.95,-.9,-.8,-1,-.9,-.95,-.5,-1,-.9,-.85,-.85,-1,-.95,-.9,
-.4,-1,-.8,-.95,-.5,-1,-.85,-.9,-.9,-1.05,-.75,-.95,-.9,-1,-.85,-.9,-.6,-1,-.8,-.95,
-.85,-1,-.95,-.85,-.8,-1.05,-.9,-.95,-.5,-1,-.9,-.9,-.95,-1,-.8,-.9,-.5,-1,-.85,-.9,
-.95,-1,-.85,-.9,-.9,-1.05,-.75,-.95,-.9,-1,-.85,-.4,.95,.93,.9,.3,-.2,-1,-.9,-.95,
-.8,-1,-.9,-.85,-.85,-1.05,-.95,-.9,-.4,-1,-.9,-.95,-.7,-1,-.9,-.85,-.85,-1,-.95,-.9,
-.6,-1,-.8,-.9,-.95,-1.05,-.85,-.9,-.5,-1,-.75,-.95,-.9];
const SEA = [
-.85,-.95,-.4,-1,-.8,-.85,-.9,-1.05,-.7,-1,-.9,-.95,-.95,-1,-.5,-.95,-.9,-1,-.85,-.9,
-.95,-1,-.85,-.5,1,.7,.3,-.3,-.4,-1,-.85,-.9,-.8,-1.05,-.95,-.9,-.85,-1,-.5,-.95,
-.8,-1,-.9,-.85,-.85,-1.05,-.95,-.9,-.5,-1,-.9,-.95,-.7,-1,-.9,-.9,-.4,-1,-.95,-.85,
-.9,-.9,.3,-.9,-.95,-1,-.85,-.9,-.5,-1,-.75,-.95,-.9,-1,-.85,-.9,-.95,-.9,.4,-.5,
1,-.3,.5,-.7,-.8,-.9,.8,-.4,.3,-.8,-.9,-1,-.95,-.9,.9,-.8,-.9,-1,-.85,-.9,
-.95,-.9,.3,-.85,-.9,-1,-.75,-1.05,-.9,-.95,-.85,-1,-.4,-1,-.95,-.9,-.85,-1,-.9,-.4,
1,.85,.7,0,-.3,-1,-.95,-.85,-.3,-1,-.9,-.95,-.7,-1.05,-.9,-.85,-.85,-1,-.95,-.9,
-.9,-.9,.4,-.9,-.95,-1,-.85,-.9,-.9,-1.05,-.5,-1,-.9,-.95,-.85,-1,-.95,-.9,1,-.9,
-.85,-1,-.95,-.85,-.5,-1,-.9,-.95,-.7,-1,-.5,-.95,-.95,-1.05,-.8,-.9,-.9,-1,-.4,-.95,
-.95,-1,-.85,-.9,-.4,-1,-.75,-.95,-.9,-.5,1,.8,.6,-.1,-.3,-1,-.85,-.9,-.9,-1,
-.8,-1,-.9,-.95,-.2,-1,-.95,-.85,-.8,-1.05,-.9,-.95,-.5,-1,-.9,-.9,-.85,-1,-.95,-.4,
1,.8,.6,-.4,-.95,-.95,-.3,-1,-.9,-1.05,-.75,-.95,-.9,-1,-.85,-.9,-.5,-1,-.8,-.9,
-.85,-1,-.95,-.5,1,-.1,-.3,-1,-.7,-1.05,-.9,-.95,-.95,-1,-.8,-.9,-.5,-1,-.85,-.9,
-.95,-1,-.85,-.9,-.9,-1.05,-.5,-1,-.9,-.95,-.85,-1,-.8,-.9,-.95,-1,-.5,-1,-.9,-.85,
-.8,-1,-.9,-.85,-.85,-1.05,-.95,-.9,-.8,-.4,.9,.95,1,.6,.2,-.5,-.85,-1,-.95,-.9,
-.9,-1,-.5,-1,-.95,-.85,-.85,-1.05,-.9,-.95,-.4,-1,-.9,-.9,-.85,-1,-.95,-.9,-.8,-1,
-.5,-1,-.95,-.85,-.8,-1.05,-.9,-.95,-.7,-1,-.9,-.95,-.3];

const seriesValues = [ASH,ELB,FAF,HRG,KLV,GEI,LSF,MOH,STH,LAG,ISS,LAT,HDV,LHL,SEA];
const yMaxPerStation = {GEI: 0.65};

const chart = echarts.init(document.getElementById('c'), null, {renderer:'canvas'});
const FONT = 'DejaVu Sans';
const xMin = 13, xMax = 511;
const grids = [], xAxes = [], yAxes = [], series = [];
const n = stations.length;
const labelStyle = {fontSize: 8, color: '#444', fontFamily: FONT, margin: 3, hideOverlap: false,
  formatter: v => String(Math.round(v * 10) / 10)};
for (let i = 0; i < n; i++) {
  const top = 15 + 29.69 * i;
  grids.push({left: 40, right: 3, top: top, height: 20, containLabel: false, outerBoundsMode: 'none'});
  const last = i === n - 1;
  const yMax = yMaxPerStation[stations[i]] || 1;
  xAxes.push({
    type: 'value', gridIndex: i, min: xMin, max: xMax, z: 5,
    axisLine: {show: true, onZero: false, lineStyle: {color: '#222', width: 1}},
    axisTick: {show: false},
    splitLine: {show: false},
    axisLabel: last ? {
      show: true, customValues: tickSeconds, fontSize: 9, color: '#444', fontFamily: FONT, margin: 4,
      hideOverlap: false,
      formatter: v => tickLabels[tickSeconds.indexOf(Math.round(v))] || ''
    } : {show: false}
  });
  // main y axis (ticks, outer labels, station name)
  yAxes.push({
    type: 'value', gridIndex: i, min: -1.1, max: yMax, z: 5,
    name: stations[i], nameLocation: 'middle', nameRotate: 90, nameGap: 20, nameMoveOverlap: false,
    nameTextStyle: {fontSize: 10, color: '#333', fontFamily: FONT},
    axisLine: {show: true, lineStyle: {color: '#555', width: 1}},
    axisTick: {show: true, customValues: [-0.5, 0, 0.5], length: 3, lineStyle: {color: '#555'}},
    splitLine: {show: false},
    axisLabel: Object.assign({show: true, customValues: [-0.5, 0.5]}, labelStyle)
  });
  // companion y axis carrying only the "0" label
  yAxes.push({
    type: 'value', gridIndex: i, min: -1.1, max: yMax, position: 'left', z: 5,
    axisLine: {show: false}, axisTick: {show: false}, splitLine: {show: false},
    axisLabel: Object.assign({show: true, customValues: [0]}, labelStyle)
  });
  const vals = seriesValues[i];
  series.push({
    type: 'line', xAxisIndex: i, yAxisIndex: 2 * i,
    data: vals.map((v, k) => [tStart + k * tStep, v]),
    showSymbol: false, symbol: 'none', clip: false, z: 3,
    lineStyle: {color: '#000', width: 1},
    animation: false, silent: true,
    markLine: {
      silent: true, symbol: 'none', animation: false,
      label: {show: false},
      lineStyle: {color: '#ff00ff', type: [1.5, 1.5], width: 1.5},
      data: [{yAxis: 0}]
    }
  });
}
// overlay grid for the highlight windows
grids.push({left: 40, right: 3, top: 0, bottom: 0, containLabel: false, outerBoundsMode: 'none'});
xAxes.push({type: 'value', gridIndex: n, min: xMin, max: xMax, show: false});
yAxes.push({type: 'value', gridIndex: n, min: 0, max: 463, inverse: true, show: false});
series.push({
  type: 'custom', xAxisIndex: n, yAxisIndex: 2 * n, z: 1, silent: true, animation: false,
  data: bandStart.map((s, k) => [s, bandEnd[k], bandTop[k]]),
  renderItem: (params, api) => {
    const p0 = api.coord([api.value(0), api.value(2)]);
    const p1 = api.coord([api.value(1), 463]);
    return {type: 'rect', shape: {x: p0[0], y: p0[1], width: p1[0] - p0[0], height: p1[1] - p0[1]},
      style: {fill: '#ffff00'}};
  }
});

chart.setOption({
  animation: false,
  backgroundColor: '#fff',
  textStyle: {fontFamily: FONT},
  grid: grids, xAxis: xAxes, yAxis: yAxes, series: series
});
</script>
</body>
</html>
